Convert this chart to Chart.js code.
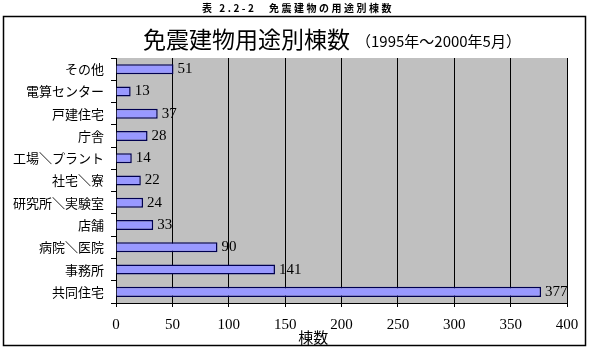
<!DOCTYPE html>
<html>
<head>
<meta charset="utf-8">
<script src="https://cdn.jsdelivr.net/npm/chart.js@4"></script>
<style>
  html, body { margin: 0; padding: 0; background: #fff; }
  #wrap { width: 592px; height: 350px; }
</style>
</head>
<body>
<div id="wrap"><canvas id="graficaUsos" width="592" height="350"></canvas></div>
<script>
// datos
var categorias = ['その他', '電算センター', '戸建住宅', '庁舎', '工場＼プラント', '社宅＼寮',
                  '研究所＼実験室', '店舗', '病院＼医院', '事務所', '共同住宅'];
var valores = [51, 13, 37, 28, 14, 22, 24, 33, 90, 141, 377];
var ticksX = [0, 50, 100, 150, 200, 250, 300, 350, 400];

var jp = '"Noto Sans CJK JP", "Noto Sans", sans-serif';
var serif = '"Liberation Serif", "DejaVu Serif", serif';

// titulos, marco y etiquetas de valor
var textos = {
    id: 'textos',
    beforeDraw: function(chart) {
        var ctx = chart.ctx;
        var a = chart.chartArea;
        ctx.save();
        ctx.fillStyle = '#c0c0c0';
        ctx.fillRect(a.left, a.top, a.right - a.left, a.bottom - a.top);
        ctx.restore();
    },
    afterDraw: function(chart) {
        var ctx = chart.ctx;
        var x = chart.scales.x;
        ctx.save();
        // marco
        ctx.strokeStyle = '#000';
        ctx.lineWidth = 1.5;
        ctx.strokeRect(3.5, 16.5, 582, 329);
        // titulo exterior
        ctx.fillStyle = '#000';
        ctx.font = 'bold 10px ' + jp;
        ctx.textAlign = 'center';
        ctx.textBaseline = 'middle';
        ctx.letterSpacing = '2.5px';
        ctx.fillText('表 2.2-2　免震建物の用途別棟数', 298, 8);
        ctx.letterSpacing = '0px';
        // titulo del grafico
        ctx.textAlign = 'left';
        ctx.textBaseline = 'alphabetic';
        ctx.font = '23px ' + jp;
        ctx.fillText('免震建物用途別棟数', 143, 48);
        ctx.font = '15px ' + jp;
        ctx.fillText('（1995年～2000年5月）', 356, 47);
        // titulo eje x
        ctx.textAlign = 'center';
        ctx.textBaseline = 'middle';
        ctx.font = '15px ' + jp;
        ctx.fillText('棟数', x.getPixelForValue(175), 337);
        // etiquetas de valor
        var meta = chart.getDatasetMeta(0);
        ctx.font = '15px ' + serif;
        ctx.textAlign = 'left';
        meta.data.forEach(function(bar, i) {
            ctx.fillText(String(valores[i]), bar.x + 4, bar.y);
        });
        ctx.restore();
    }
};

document.addEventListener('DOMContentLoaded', function() {
    var ctx = document.getElementById('graficaUsos').getContext('2d');
    var grafica = new Chart(ctx, {
        type: 'bar',
        data: {
            labels: categorias,
            datasets: [{
                data: valores,
                backgroundColor: '#9999ff',
                borderColor: '#000050',
                borderWidth: 1.5,
                barPercentage: 0.9,
                categoryPercentage: 0.5
            }]
        },
        options: {
            indexAxis: 'y',
            responsive: false,
            animation: false,
            layout: { padding: { left: 0, right: 25, top: 58, bottom: 0 } },
            plugins: {
                legend: { display: false },
                title: { display: false },
                tooltip: { enabled: false }
            },
            scales: {
                x: {
                    min: 0,
                    max: 400,
                    afterBuildTicks: function(s) { s.ticks = ticksX.map(function(v) { return { value: v }; }); },
                    afterFit: function(s) { s.height = 47; },
                    grid: { color: '#000', lineWidth: 1, tickLength: 4, drawTicks: true },
                    border: { color: '#000', width: 1 },
                    ticks: { color: '#000', font: { family: serif, size: 15 }, padding: 9, maxRotation: 0 }
                },
                y: {
                    afterFit: function(s) { s.width = 116; },
                    grid: { display: true, drawOnChartArea: false, offset: true, color: '#000', tickLength: 5 },
                    border: { color: '#000', width: 1 },
                    ticks: { color: '#000', font: { family: jp, size: 13 }, padding: 7, autoSkip: false }
                }
            }
        },
        plugins: [textos]
    });
});
</script>
</body>
</html>
